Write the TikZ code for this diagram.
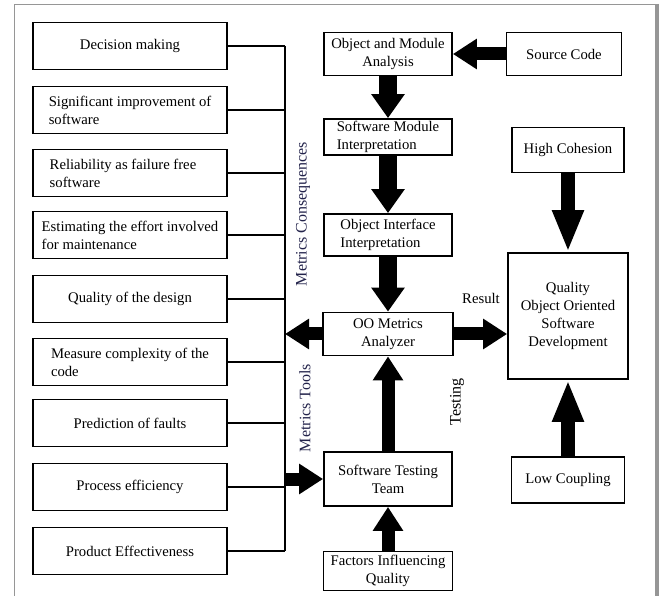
\documentclass[tikz,border=0pt]{standalone}
\usepackage{fontspec}
\setmainfont{Liberation Serif}
\usetikzlibrary{arrows.meta}
\definecolor{framegray}{RGB}{150,150,150}
\definecolor{metricsnavy}{RGB}{35,35,75}

\begin{document}
\begin{tikzpicture}[x=1pt, y=-1pt,
		box/.style={draw, line width=1.8pt, inner sep=2pt, font=\fontsize{14.7}{18}\selectfont},
		leftbox/.style={box, minimum width=194pt, minimum height=47pt},
		bigarrow/.style={line width=13pt, -{Triangle[width=29pt,length=24pt]}},
		widearrow/.style={line width=18pt, -{Triangle[width=32pt,length=24pt]}},
		longarrow/.style={line width=14pt, -{Triangle[width=29pt,length=42pt]}},
		lbl/.style={inner sep=0pt, font=\fontsize{14.7}{18}\selectfont},
		rotlbl/.style={inner sep=0pt, rotate=90, font=\fontsize{16}{18}\selectfont}]
		\useasboundingbox (0,0) rectangle (662,596);

		%––––– frame –––––
		\draw[framegray, line width=1pt] (14,596) -- (14,5) -- (656,5);
		\draw[framegray, line width=4pt] (657,4) -- (657,596);

		%––––– consequences (left column) –––––
		\node[leftbox] (dm) at (130,46) {Decision making};
		\node[leftbox, align=left] (sis) at (130,110) {Significant improvement of\\software};
		\node[leftbox, align=left] (rel) at (130,173) {Reliability as failure free\hspace*{14pt}\\software};
		\node[leftbox, align=left] (eff) at (130,235) {Estimating the effort involved\\for maintenance};
		\node[leftbox] (qd) at (130,299) {Quality of the design};
		\node[leftbox, align=left] (mcx) at (130,362) {Measure complexity of the\\code};
		\node[leftbox] (pf) at (130,423) {Prediction of faults};
		\node[leftbox] (pe) at (130,487) {Process efficiency};
		\node[leftbox] (pr) at (130,551) {Product Effectiveness};

		%––––– bus –––––
		\coordinate (bustop) at (285,46);
		\coordinate (busbot) at (285,551);
		\draw[line width=1.6pt] (bustop) -- (busbot);
		\draw[line width=1.6pt] (dm.east) -- (dm.east -| bustop);
		\draw[line width=1.6pt] (sis.east) -- (sis.east -| bustop);
		\draw[line width=1.6pt] (rel.east) -- (rel.east -| bustop);
		\draw[line width=1.6pt] (eff.east) -- (eff.east -| bustop);
		\draw[line width=1.6pt] (qd.east) -- (qd.east -| bustop);
		\draw[line width=1.6pt] (mcx.east) -- (mcx.east -| bustop);
		\draw[line width=1.6pt] (pf.east) -- (pf.east -| bustop);
		\draw[line width=1.6pt] (pe.east) -- (pe.east -| bustop);
		\draw[line width=1.6pt] (pr.east) -- (pr.east -| bustop);

		%––––– analysis (middle column) –––––
		\node[box, minimum width=128pt, minimum height=43pt, align=center] (oma) at (388,54) {Object and Module\\Analysis};
		\node[box, minimum width=128pt, minimum height=36pt, align=left] (smi) at (388,137) {Software Module\\Interpretation};
		\draw[widearrow] (oma) -- (smi);

		\node[box, minimum width=128pt, minimum height=42pt, align=left] (oii) at (388,235) {Object Interface\\Interpretation};
		\draw[widearrow] (smi) -- (oii);

		\node[box, minimum width=130pt, minimum height=43pt, align=center] (oo) at (388,334) {OO Metrics\\Analyzer};
		\draw[widearrow] (oii) -- (oo);
		\draw[bigarrow] (oo.west) -- (oo.west -| bustop);

		\node[box, minimum width=128pt, minimum height=54pt, align=center] (stt) at (388,479) {Software Testing\\Team};
		\draw[bigarrow] (stt) -- (oo);
		\draw[bigarrow] (stt.west -| bustop) -- (stt.west);

		\node[box, minimum width=129pt, minimum height=39pt, align=center] (fiq) at (388,571) {Factors Influencing\\Quality};
		\draw[bigarrow] (fiq) -- (stt);

		%––––– quality (right column) –––––
		\node[box, minimum width=115pt, minimum height=43pt] (sc) at (564,54) {Source Code};
		\draw[bigarrow] (sc) -- (oma);

		\node[box, minimum width=112pt, minimum height=45pt] (hc) at (568,150) {High Cohesion};
		\node[box, minimum width=120pt, minimum height=126pt, align=center] (qoo) at (568,316) {Quality\\Object Oriented\\Software\\Development};
		\draw[longarrow] (hc) -- (qoo);
		\draw[bigarrow] (oo.east) -- (oo.east -| qoo.west);

		\node[box, minimum width=113pt, minimum height=46pt] (lc) at (568,480) {Low Coupling};
		\draw[longarrow] (lc) -- (qoo);

		%––––– labels –––––
		\node[rotlbl, text=metricsnavy] (cons) at (303,214) {Metrics Consequences};
		\node[rotlbl, text=metricsnavy] (tools) at (305,408) {Metrics Tools};
		\node[rotlbl] (test) at (457,402) {Testing};
		\node[lbl] (res) at (481,298) {Result};
	\end{tikzpicture}
\end{document}
